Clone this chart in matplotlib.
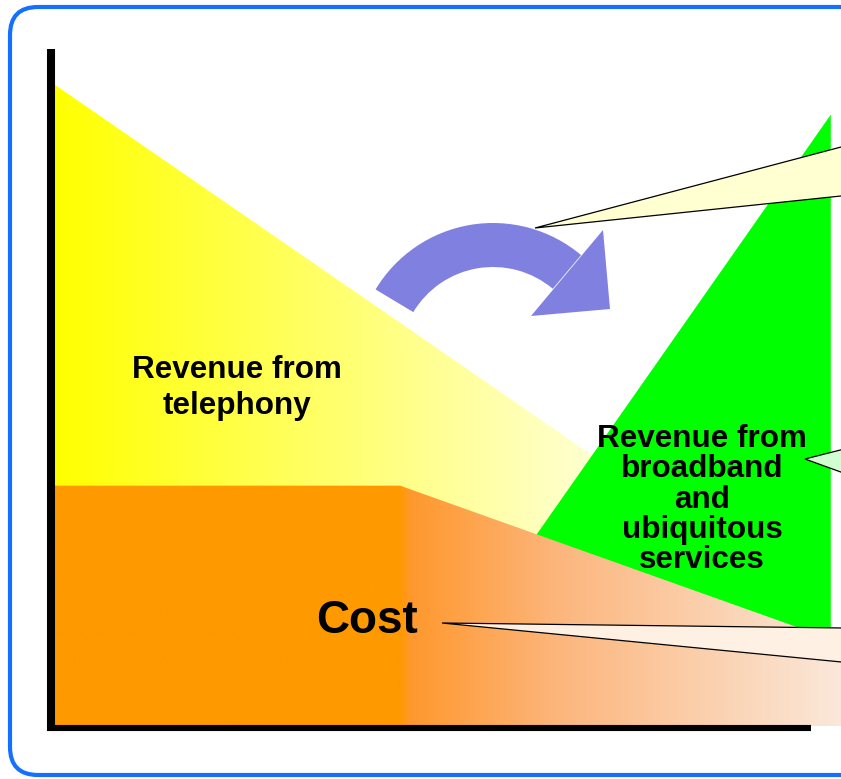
import numpy as np
import matplotlib
matplotlib.use("Agg")
import matplotlib.pyplot as plt
from matplotlib.patches import Polygon, Wedge, FancyBboxPatch


# chart units: time runs 0..100 along the x axis, value 0..100 up the y axis
TELEPHONY_T = [0.0, 98.7]
TELEPHONY_REV = [94.7, 15.7]

BROADBAND_T = [44.2, 98.7]
BROADBAND_REV = [0.0, 90.3]

COST_T = [0.0, 43.9, 100.0]
COST = [35.5, 35.5, 12.3]

TELEPHONY_LABEL = ["Revenue from", "telephony"]
BROADBAND_LABEL = ["Revenue from", "broadband", "and", "ubiquitous", "services"]
COST_LABEL = "Cost"

W, H = 841, 779
FONT = "Liberation Sans"

YELLOW_STOPS = [(0.0, (255, 255, 0)), (68.0, (255, 255, 208)), (100.0, (255, 255, 208))]
ORANGE_STOPS = [
    (0.0, (255, 153, 0)),
    (43.9, (255, 153, 0)),
    (45.2, (255, 152, 45)),
    (64.2, (252, 182, 125)),
    (82.1, (251, 207, 172)),
    (100.0, (250, 232, 218)),
]


def area_under(ts, vals):
    pts = [(ts[0], 0.0)] + list(zip(ts, vals)) + [(ts[-1], 0.0)]
    return pts


def gradient_fill(ax, pts, stops, zorder):
    clip = Polygon(pts, closed=True, facecolor="none", edgecolor="none")
    ax.add_patch(clip)
    xs = np.linspace(0, 100, 1000)
    pos = [s[0] for s in stops]
    cols = np.array([s[1] for s in stops], dtype=float) / 255.0
    rgb = np.stack([np.interp(xs, pos, cols[:, i]) for i in range(3)], axis=-1)[None, :, :]
    im = ax.imshow(rgb, extent=(0, 100, 0, 100), aspect="auto", origin="lower",
                   interpolation="bilinear", zorder=zorder)
    im.set_clip_path(clip)


def callout(ax, tip, right_top, right_bottom, color):
    ax.add_patch(Polygon([tip, right_top, right_bottom], closed=True, facecolor=color,
                         edgecolor="black", linewidth=0.9, joinstyle="miter", zorder=5))


def main():
    fig = plt.figure(figsize=(W / 100, H / 100), dpi=100)
    fig.patch.set_facecolor("white")

    # plot area: origin at the corner of the two axis lines
    ax = fig.add_axes([55 / W, (H - 726) / H, 786 / W, 677 / H])
    ax.set_facecolor("none")
    ax.axis("off")

    gradient_fill(ax, area_under(TELEPHONY_T, TELEPHONY_REV), YELLOW_STOPS, zorder=1)
    ax.add_patch(Polygon(area_under(BROADBAND_T, BROADBAND_REV), closed=True,
                         facecolor="#00FF00", edgecolor="none", zorder=2))
    gradient_fill(ax, area_under(COST_T, COST), ORANGE_STOPS, zorder=3)
    ax.set_xlim(0, 100)
    ax.set_ylim(0, 100)

    # overlay in pixel units for the frame, axes lines, arrow, callouts and labels
    ov = fig.add_axes([0, 0, 1, 1], zorder=2)
    ov.set_xlim(0, W)
    ov.set_ylim(H, 0)
    ov.axis("off")
    ov.patch.set_alpha(0)

    ov.add_patch(FancyBboxPatch((10, 7), 900, 768, boxstyle="round,pad=0,rounding_size=28",
                                facecolor="none", edgecolor="#1470FF", linewidth=3.0, zorder=1))

    ov.plot([51, 51], [49, 731], color="black", linewidth=5.8, solid_capstyle="butt", zorder=4)
    ov.plot([47, 811], [728, 728], color="black", linewidth=4.4, solid_capstyle="butt", zorder=4)

    # curved arrow from telephony towards broadband
    arrow_color = "#8080E0"
    ov.add_patch(Wedge((493, 360), 137, -149, -50, width=44, facecolor=arrow_color,
                       edgecolor="none", zorder=4))
    ov.add_patch(Polygon([(603, 230), (610, 309), (531, 316)], closed=True,
                         facecolor=arrow_color, edgecolor="none", zorder=4))

    callout(ov, (535, 228), (860, 142), (860, 194), "#FFFFD2")
    callout(ov, (805, 459), (860, 445), (860, 479), "#D2FFD2")
    callout(ov, (442, 623), (860, 628.2), (860, 663.8), "#FFF0E4")

    for text, y in zip(TELEPHONY_LABEL, [378, 414]):
        ov.text(237, y, text, ha="center", va="baseline", fontsize=22.6, fontweight="bold",
                family=FONT, color="black", zorder=6)
    for text, y in zip(BROADBAND_LABEL, [447, 477, 508, 538, 568]):
        ov.text(702, y, text, ha="center", va="baseline", fontsize=22.6, fontweight="bold",
                family=FONT, color="black", zorder=6)
    ov.text(367, 633, COST_LABEL, ha="center", va="baseline", fontsize=33, fontweight="bold",
            family=FONT, color="black", zorder=6)

    fig.savefig("out.png", dpi=100)
    plt.close(fig)


if __name__ == "__main__":
    main()
